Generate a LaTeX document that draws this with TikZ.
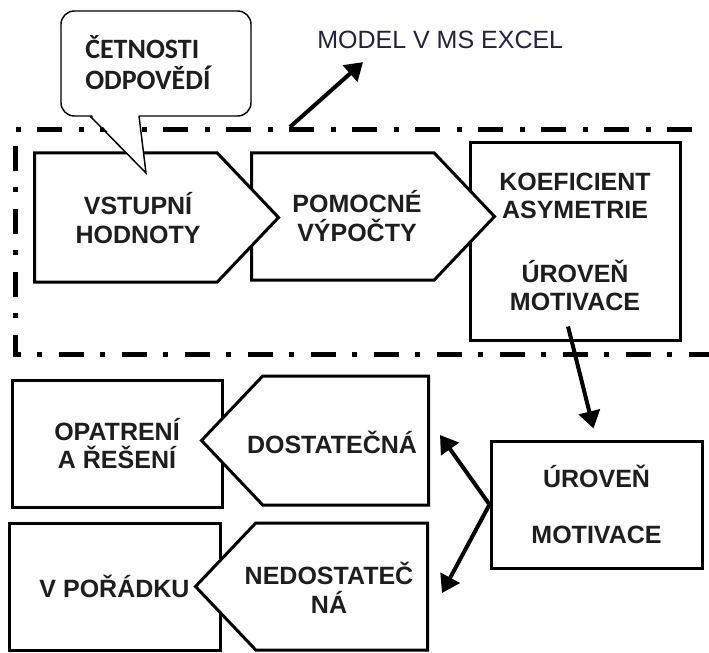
\documentclass[tikz,border=0pt]{standalone}
\usepackage{fontspec}
\setmainfont{Liberation Sans}
\newfontfamily\calloutfont{Carlito}
\usetikzlibrary{arrows.meta,shapes.symbols,calc}
\definecolor{ink}{HTML}{1E1E1E}
\definecolor{navyink}{HTML}{23213F}
\begin{document}
\begin{tikzpicture}[x=0.75pt,y=-0.75pt,
  box/.style={draw=black, line width=2.25pt, fill=white, inner sep=0pt,
    font=\bfseries\fontsize{18.75pt}{21pt}\selectfont, text=ink, align=center},
  tag/.style={shape=signal, draw=black, line width=2.25pt, fill=white,
    inner sep=0pt, signal pointer angle=93},
  lbl/.style={font=\bfseries\fontsize{18.75pt}{21.5pt}\selectfont, text=ink,
    align=center, inner sep=0pt},
  flow/.style={line width=3pt, -{Triangle[length=13pt,width=16pt]}},
  frame/.style={line width=3.75pt,
    dash pattern=on 18.75pt off 12pt on 3.75pt off 12.75pt, dash phase=34.5pt},
  bubble/.style={draw=black, line width=1.1pt}
]
\useasboundingbox (0,0) rectangle (709,652);

% dash-dot frame around the spreadsheet model (open on the right)
\draw[frame] (709,130) -- (15,130) -- (15,354) -- (709,354);

% upper chain: input -> intermediate -> result
\node[box, minimum width=157.5pt, minimum height=147.75pt] (koef) at (575,241.5)
  {KOEFICIENT\\ASYMETRIE\\[27pt]ÚROVEŇ\\MOTIVACE};
\node[tag, signal to=east, signal from=nowhere, minimum width=182.25pt,
  minimum height=95.25pt, anchor=west] (pomocne) at (250,216.5) {};
\node[lbl] (pomocnetxt) at (357,216) {POMOCNÉ\\VÝPOČTY};
\node[tag, signal to=east, signal from=nowhere, minimum width=183pt,
  minimum height=96.75pt, anchor=west] (vstup) at (33,217.5) {};
\node[lbl] (vstuptxt) at (138,218) {VSTUPNÍ\\HODNOTY};

% speech bubble
\draw[bubble, fill=white, rounded corners=10pt] (61,11) rectangle (251,116);
\fill[white] (91,114) -- (146,173) -- (138.5,114) -- cycle;
\draw[bubble] (90,116) -- (146,173) -- (139,116);
\node[font=\calloutfont\bfseries\fontsize{21pt}{23.25pt}\selectfont, text=ink,
  align=left, inner sep=0pt, anchor=west] (cetnosti) at (85,62.5)
  {ČETNOSTI\\ODPOVĚDÍ};

% title and its pointer
\node[font=\fontsize{18.75pt}{21pt}\selectfont, text=navyink, inner sep=0pt,
  anchor=west] (model) at (317,40) {MODEL V MS EXCEL};
\coordinate (framepoint) at (290,127);
\draw[flow] (framepoint) -- ($(model.south west)+(46,13)$);

% lower part: decision
\node[box, minimum width=158.25pt, minimum height=95.25pt] (uroven) at (596.5,504.5)
  {ÚROVEŇ\\[21pt]MOTIVACE};

\node[box, minimum width=157.5pt, minimum height=95.25pt] (opatreni) at (117,443.5)
  {OPATRENÍ\\A ŘEŠENÍ};
\node[tag, signal to=west, signal from=nowhere, minimum width=170.25pt,
  minimum height=96.75pt, anchor=east] (dost) at (430,440.5) {};
\node[lbl] (dosttxt) at (332,442) {DOSTATEČNÁ};

\node[box, minimum width=158.25pt, minimum height=95.25pt] (poradek) at (114.5,586.5)
  {V POŘÁDKU};
\node[tag, signal to=west, signal from=nowhere, minimum width=174pt,
  minimum height=95.25pt, anchor=east] (nedost) at (429,586.5) {};
\node[lbl] (nedosttxt) at (329,588) {NEDOSTATEČ\\NÁ};

% connectors
\draw[flow] ($(koef.south)+(-7,-15)$) -- ($(uroven.north)+(-3,-11)$);
\draw[flow] (uroven.west) -- ($(dost.east)+(10,-5.5)$);
\draw[flow] (uroven.west) -- ($(nedost.east)+(13,6.5)$);
\end{tikzpicture}
\end{document}
